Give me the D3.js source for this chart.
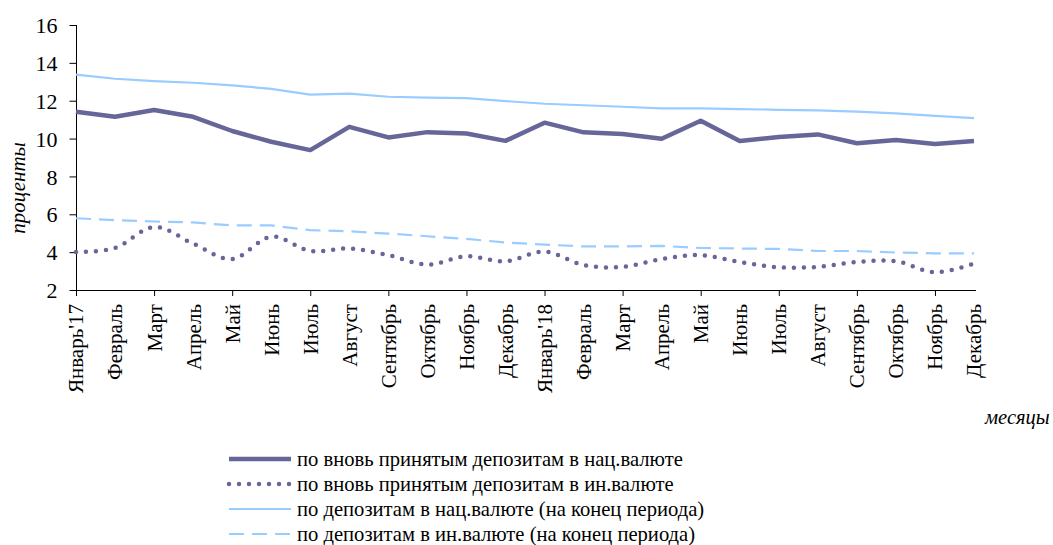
<!DOCTYPE html>
<html><head><meta charset="utf-8">
<script src="https://cdn.jsdelivr.net/npm/d3@7"></script>
<style>body{margin:0;background:#fff}</style>
</head><body><svg id="c" width="1053" height="545"></svg>
<script>
const months = ["Январь'17","Февраль","Март","Апрель","Май","Июнь","Июль","Август","Сентябрь","Октябрь","Ноябрь","Декабрь",
  "Январь'18","Февраль","Март","Апрель","Май","Июнь","Июль","Август","Сентябрь","Октябрь","Ноябрь","Декабрь"];
const newNat = [11.42,11.15,11.51,11.15,10.4,9.83,9.39,10.62,10.06,10.34,10.27,9.88,10.84,10.33,10.24,9.99,10.94,9.87,10.08,10.22,9.75,9.92,9.71,9.87];
const newFor = [4.01,4.22,5.33,4.45,3.64,4.82,4.06,4.19,3.84,3.34,3.78,3.52,4.03,3.32,3.22,3.64,3.84,3.48,3.2,3.22,3.48,3.52,2.94,3.4];
const endNat = [13.38,13.16,13.04,12.95,12.81,12.63,12.32,12.37,12.21,12.16,12.14,11.98,11.84,11.76,11.68,11.6,11.6,11.56,11.52,11.49,11.42,11.33,11.2,11.08];
const endFor = [5.79,5.69,5.62,5.57,5.41,5.41,5.16,5.1,4.98,4.84,4.7,4.51,4.4,4.3,4.3,4.33,4.22,4.19,4.17,4.06,4.06,3.98,3.94,3.93];
const yTicks = [2,4,6,8,10,12,14,16];
const seriesNames = ["по вновь принятым депозитам в нац.валюте","по вновь принятым депозитам в ин.валюте",
  "по депозитам в нац.валюте (на конец периода)","по депозитам в ин.валюте  (на конец периода)"];
const yTitle = "проценты", xTitle = "месяцы";
const FONT = "Liberation Serif, DejaVu Serif, serif";

const svg = d3.select("#c");
const idx = months.map((m,i)=>i);
const x = d3.scalePoint().domain(idx).range([76,974]);
const y = d3.scaleLinear().domain([2,16]).range([290,25]);

const series = [
  {v:newNat, color:"#666699", w:4.5, dash:null, curve:d3.curveLinear, cap:"butt"},
  {v:newFor, color:"#666699", w:4.5, dash:"0,10", curve:d3.curveCatmullRom.alpha(0), cap:"round"},
  {v:endNat, color:"#99ccff", w:2.2, dash:null, curve:d3.curveLinear, cap:"butt"},
  {v:endFor, color:"#99ccff", w:2.2, dash:"15,8", curve:d3.curveLinear, cap:"butt"}
];

// axes
const yAxis = d3.axisLeft(y).tickValues(yTicks).tickSize(7).tickPadding(12).tickFormat(d3.format("d"));
const gy = svg.append("g").attr("transform","translate(76.5,0)").call(yAxis);
gy.select(".domain").attr("stroke","#000").attr("stroke-width",1).attr("d","M0,25V290");
gy.selectAll(".tick line").attr("stroke","#000");
gy.selectAll("text").style("font-family",FONT).attr("font-size",22).attr("fill","#000").attr("dy","0.35em");

const xAxis = d3.axisBottom(x).tickSize(0).tickPadding(0).tickFormat(i=>months[i]);
const gx = svg.append("g").attr("transform","translate(0,290)").call(xAxis);
gx.select(".domain").remove();
gx.selectAll("text").style("font-family",FONT).attr("font-size",21).attr("fill","#000")
  .attr("transform","rotate(-90)").attr("text-anchor","end").attr("x",-14).attr("y",0).attr("dy","0.33em");
svg.append("line").attr("x1",76).attr("x2",976).attr("y1",290.5).attr("y2",290.5).attr("stroke","#000");
svg.append("g").selectAll("line").data(idx.filter(i=>i%2===0)).join("line")
  .attr("x1",d=>x(d)+0.5).attr("x2",d=>x(d)+0.5).attr("y1",290).attr("y2",296).attr("stroke","#000");

// lines
series.forEach(s=>{
  const line = d3.line().x((d,i)=>x(i)).y(d=>y(d)).curve(s.curve);
  svg.append("path").datum(s.v).attr("d",line).attr("fill","none")
    .attr("stroke",s.color).attr("stroke-width",s.w).attr("stroke-linecap",s.cap)
    .attr("stroke-linejoin","round").attr("stroke-dasharray",s.dash);
});

// titles
svg.append("text").attr("transform","translate(18,188) rotate(-90)").attr("text-anchor","middle").attr("dy","0.33em")
  .style("font-family",FONT).attr("font-size",21).attr("font-style","italic").text(yTitle);
svg.append("text").attr("x",985).attr("y",424).attr("text-anchor","start")
  .style("font-family",FONT).attr("font-size",20.5).attr("font-style","italic").text(xTitle);

// legend
const lg = svg.append("g");
series.forEach((s,i)=>{
  const yy = 459 + i*25;
  lg.append("line").attr("x1",229).attr("x2",291).attr("y1",yy).attr("y2",yy)
    .attr("stroke",s.color).attr("stroke-width",s.w).attr("stroke-linecap",s.cap).attr("stroke-dasharray",s.dash);
  lg.append("text").attr("x",297).attr("y",yy).attr("dy","0.33em").style("font-family",FONT).attr("font-size",20.6).text(seriesNames[i]);
});
</script></body></html>
